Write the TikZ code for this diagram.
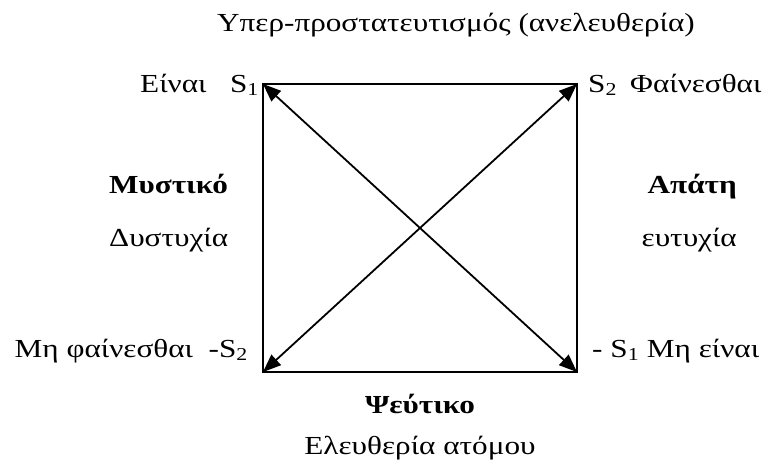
\documentclass[tikz,border=0pt]{standalone}
\usepackage{fontspec}
\setmainfont{Liberation Serif}[FakeStretch=1.2]
\usetikzlibrary{arrows.meta}

\begin{document}
\begin{tikzpicture}[
    x=1pt, y=-1pt,
    every node/.style={inner sep=0pt},
    word/.style={font=\fontsize{26}{30}\selectfont},
    keyword/.style={font=\fontsize{26}{30}\selectfont\bfseries},
    side/.style={line width=2pt, draw=black},
    diag/.style={{Triangle[length=18pt, width=14pt]}-{Triangle[length=18pt, width=14pt]}, line width=1.8pt, draw=black}
  ]
  \useasboundingbox (0,0) rectangle (768,466);

  % corners of the square
  \coordinate (s1) at (263,84);
  \coordinate (s2) at (577,84);
  \coordinate (ns2) at (263,372);
  \coordinate (ns1) at (577,372);

  % top
  \node[word, anchor=base west] (over) at (217,31) {Υπερ-προστατευτισμός (ανελευθερία)};
  \node[word, anchor=base west] (einai) at (140,92) {Είναι};
  \node[word, anchor=base east] (lS1) at (259,92) {S\textsubscript{1}};
  \node[word, anchor=base west] (lS2) at (588,92) {S\textsubscript{2}};
  \node[word, anchor=base west] (fain) at (630,92) {Φαίνεσθαι};

  % sides
  \node[keyword, anchor=base west] (secret) at (109,193) {Μυστικό};
  \node[word, anchor=base west] (misery) at (109,246) {Δυστυχία};
  \node[keyword, anchor=base east] (deceit) at (737,193) {Απάτη};
  \node[word, anchor=base east] (luck) at (737,246) {ευτυχία};

  % bottom
  \node[word, anchor=base east] (notfain) at (248,357) {Μη φαίνεσθαι\ \ -S\textsubscript{2}};
  \node[word, anchor=base west] (noteinai) at (592,357) {- S\textsubscript{1} Μη είναι};
  \node[keyword, anchor=base] (false) at (420,413) {Ψεύτικο};
  \node[word, anchor=base] (freedom) at (420,454) {Ελευθερία ατόμου};

  % square and diagonals
  \draw[side] (s1) -- (s2) -- (ns1) -- (ns2) -- cycle;
  \draw[diag] (s1) -- (ns1);
  \draw[diag] (ns2) -- (s2);
\end{tikzpicture}
\end{document}
